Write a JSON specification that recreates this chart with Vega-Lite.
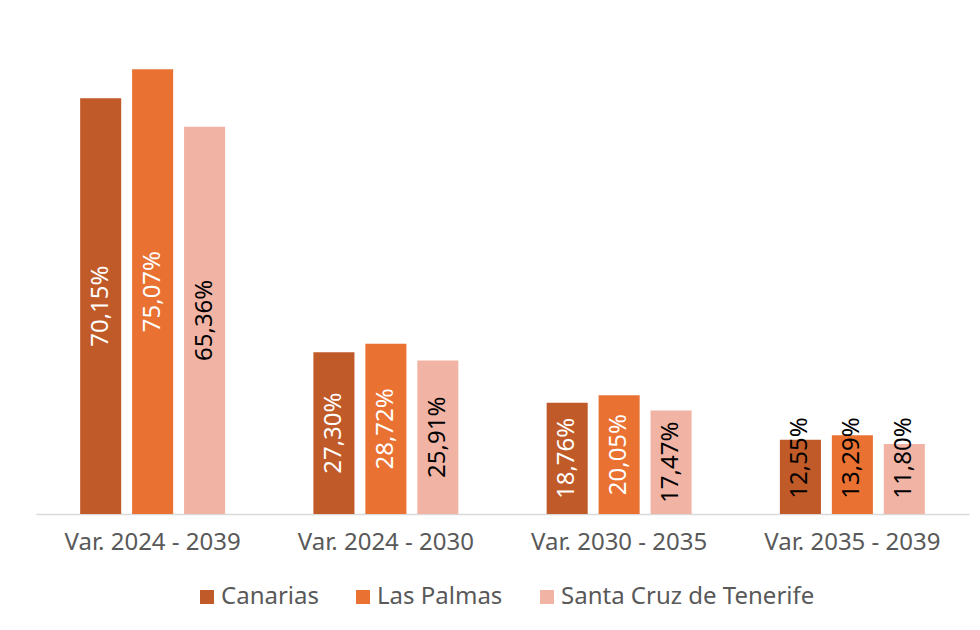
{
  "$schema": "https://vega.github.io/schema/vega-lite/v6.json",
  "width": 933,
  "height": 474,
  "autosize": {"type": "none"},
  "padding": {"left": 36, "top": 40, "right": 11, "bottom": 116},
  "background": "white",
  "config": {
    "view": {"stroke": null},
    "font": "Noto Sans",
    "locale": {"number": {"decimal": ",", "thousands": ".", "grouping": [3], "currency": ["", " €"]}}
  },
  "data": {
    "values": [
      {"periodo": "Var. 2024 - 2039", "serie": "Canarias", "valor": 0.7015},
      {"periodo": "Var. 2024 - 2039", "serie": "Las Palmas", "valor": 0.7507},
      {"periodo": "Var. 2024 - 2039", "serie": "Santa Cruz de Tenerife", "valor": 0.6536},
      {"periodo": "Var. 2024 - 2030", "serie": "Canarias", "valor": 0.2730},
      {"periodo": "Var. 2024 - 2030", "serie": "Las Palmas", "valor": 0.2872},
      {"periodo": "Var. 2024 - 2030", "serie": "Santa Cruz de Tenerife", "valor": 0.2591},
      {"periodo": "Var. 2030 - 2035", "serie": "Canarias", "valor": 0.1876},
      {"periodo": "Var. 2030 - 2035", "serie": "Las Palmas", "valor": 0.2005},
      {"periodo": "Var. 2030 - 2035", "serie": "Santa Cruz de Tenerife", "valor": 0.1747},
      {"periodo": "Var. 2035 - 2039", "serie": "Canarias", "valor": 0.1255},
      {"periodo": "Var. 2035 - 2039", "serie": "Las Palmas", "valor": 0.1329},
      {"periodo": "Var. 2035 - 2039", "serie": "Santa Cruz de Tenerife", "valor": 0.1180}
    ]
  },
  "encoding": {
    "x": {
      "field": "periodo", "type": "nominal", "sort": null,
      "scale": {"paddingInner": 0, "paddingOuter": 0},
      "axis": {"title": null, "labelAngle": 0, "ticks": false, "labelFontSize": 24, "labelColor": "#595959", "domainColor": "#d9d9d9", "domainWidth": 1.5, "labelPadding": 16}
    },
    "xOffset": {"field": "serie", "type": "nominal", "sort": null, "scale": {"paddingInner": 0.21, "paddingOuter": 0.85}}
  },
  "layer": [
    {
      "mark": {"type": "bar"},
      "encoding": {
        "y": {"field": "valor", "type": "quantitative", "scale": {"domain": [0, 0.8], "nice": false}, "axis": null},
        "color": {
          "field": "serie", "type": "nominal", "sort": null,
          "scale": {"domain": ["Canarias", "Las Palmas", "Santa Cruz de Tenerife"], "range": ["#C05A28", "#E97132", "#F1B3A4"]},
          "legend": {"title": null, "orient": "none", "legendX": 159, "legendY": 545, "direction": "horizontal", "symbolType": "square", "symbolSize": 196, "symbolStrokeWidth": 0, "labelFontSize": 24, "labelColor": "#595959", "columnPadding": 32, "labelOffset": 2, "labelLimit": 400}
        }
      }
    },
    {
      "transform": [
        {"calculate": "datum.periodo == 'Var. 2035 - 2039' ? 0.0944 : datum.valor / 2", "as": "pos"}
      ],
      "mark": {"type": "text", "angle": 270, "align": "center", "baseline": "middle", "fontSize": 24},
      "encoding": {
        "y": {"field": "pos", "type": "quantitative", "scale": {"domain": [0, 0.8], "nice": false}},
        "text": {"field": "valor", "type": "quantitative", "format": ".2%"},
        "color": {
          "condition": {"test": "datum.serie == 'Santa Cruz de Tenerife' || datum.periodo == 'Var. 2035 - 2039'", "value": "#000000"},
          "value": "#ffffff"
        }
      }
    }
  ]
}
